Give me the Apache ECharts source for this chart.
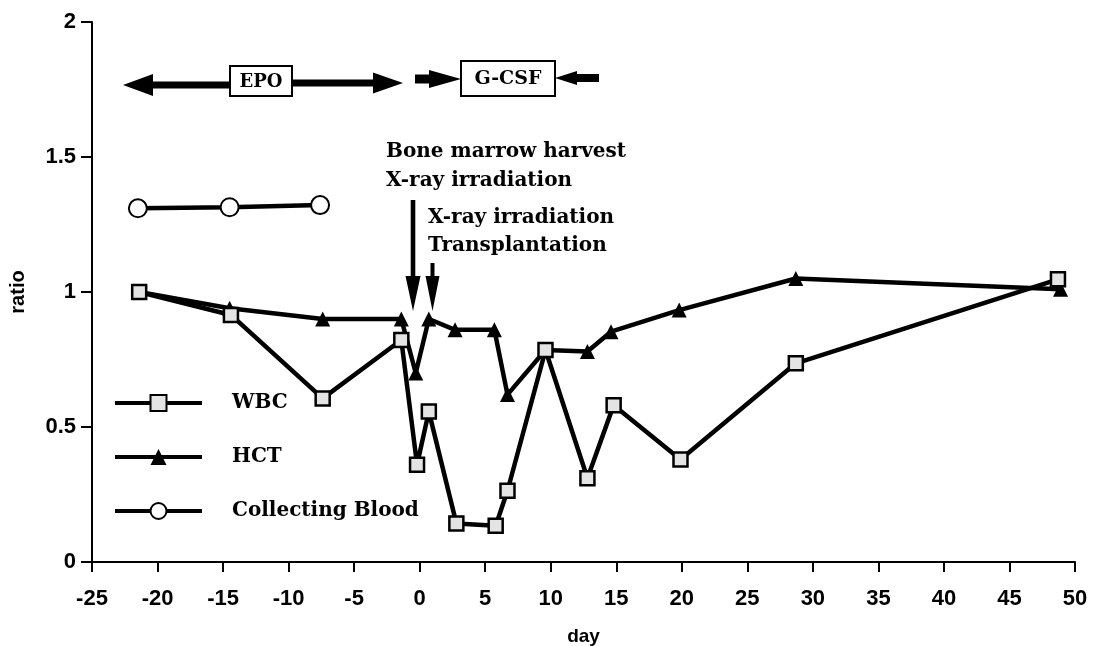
<!DOCTYPE html>
<html>
<head>
<meta charset="utf-8">
<script src="https://cdn.jsdelivr.net/npm/echarts@6/dist/echarts.min.js"></script>
<style>
  html, body { margin: 0; padding: 0; background: #fff; }
  #chart { width: 1093px; height: 646px; }
</style>
</head>
<body>
<div id="chart"></div>
<script>
// values
var wbcDays   = [-21.4, -14.4, -7.4, -1.4, -0.2, 0.7, 2.8, 5.8, 6.7, 9.6, 12.8, 14.8, 19.9, 28.7, 48.7];
var wbcRatio  = [1.00, 0.915, 0.606, 0.822, 0.36, 0.557, 0.143, 0.134, 0.264, 0.785, 0.31, 0.581, 0.38, 0.736, 1.047];
var hctDays   = [-21.4, -14.5, -7.4, -1.4, -0.3, 0.7, 2.7, 5.7, 6.7, 9.6, 12.8, 14.6, 19.8, 28.7, 48.9];
var hctRatio  = [1.00, 0.94, 0.90, 0.90, 0.70, 0.90, 0.86, 0.86, 0.62, 0.785, 0.78, 0.853, 0.933, 1.05, 1.01];
var bloodDays  = [-21.5, -14.5, -7.6];
var bloodRatio = [1.31, 1.314, 1.322];
var xTicks = { min: -25, max: 50, step: 5 };
var yTicks = { min: 0, max: 2, step: 0.5 };

function pairs(xs, ys) {
    var out = [];
    for (var i = 0; i < xs.length; i++) out.push([xs[i], ys[i]]);
    return out;
}

var serifFont = '"DejaVu Serif", "Liberation Serif", serif';
var sansFont = '"Liberation Sans", Arial, sans-serif';

// arrow helpers (annotation shapes, screen pixels)
function hArrow(x1, x2, y, shaft, head, headLen) {
    // tip at x2
    var d = x2 > x1 ? 1 : -1;
    var hb = x2 - d * headLen;
    return {
        type: 'polygon',
        shape: { points: [[x1, y - shaft], [hb, y - shaft], [hb, y - head], [x2, y], [hb, y + head], [hb, y + shaft], [x1, y + shaft]] },
        style: { fill: '#000' }
    };
}
function vArrow(x, y1, y2, shaft, head, headLen) {
    var hb = y2 - headLen;
    return {
        type: 'polygon',
        shape: { points: [[x - shaft, y1], [x + shaft, y1], [x + shaft, hb], [x + head, hb], [x, y2], [x - head, hb], [x - shaft, hb]] },
        style: { fill: '#000' }
    };
}
function boxLabel(x, y, w, h, txt, size) {
    return [{
        type: 'rect',
        shape: { x: x, y: y, width: w, height: h },
        style: { fill: '#fff', stroke: '#000', lineWidth: 2 }
    }, {
        type: 'text',
        x: x + w / 2, y: y + h / 2 + 1,
        style: { text: txt, font: 'bold ' + size + 'px ' + serifFont, fill: '#000', align: 'center', verticalAlign: 'middle' }
    }];
}
function note(x, y, txt) {
    return {
        type: 'text', x: x, y: y,
        style: { text: txt, font: 'bold 20px ' + serifFont, fill: '#000', align: 'left', verticalAlign: 'middle' }
    };
}

var graphics = [
    hArrow(292, 403, 83, 3.5, 10.5, 30),
    hArrow(230, 123, 85, 3.5, 11, 30)
].concat(boxLabel(230, 66, 62, 30, 'EPO', 18)).concat([
    hArrow(415, 461, 79, 4.5, 9, 32),
    hArrow(599, 555, 78, 4, 7, 22)
]).concat(boxLabel(461, 61, 94, 35, 'G-CSF', 19)).concat([
    note(386, 152, 'Bone marrow harvest'),
    note(386, 181, 'X-ray irradiation'),
    note(428, 218, 'X-ray irradiation'),
    note(428, 246, 'Transplantation'),
    vArrow(413, 200, 311, 2.3, 7.5, 35),
    vArrow(432.5, 263, 311, 2, 7, 35)
]);

var chart = echarts.init(document.getElementById('chart'));
chart.setOption({
    backgroundColor: '#fff',
    animation: false,
    grid: { left: 92, right: 18, top: 22, bottom: 84, outerBoundsMode: 'none', containLabel: false },
    legend: {
        orient: 'vertical',
        left: 113, top: 393,
        padding: 0,
        itemWidth: 87, itemHeight: 20,
        itemGap: 34,
        data: ['WBC', 'HCT', 'Collecting Blood'],
        lineStyle: { width: 4 },
        textStyle: { fontFamily: serifFont, fontWeight: 'bold', fontSize: 20, color: '#000', padding: [0, 0, 0, 25] }
    },
    xAxis: {
        type: 'value',
        min: xTicks.min, max: xTicks.max, interval: xTicks.step,
        name: 'day', nameLocation: 'middle', nameGap: 65,
        nameTextStyle: { fontFamily: sansFont, fontWeight: 'bold', fontSize: 19, color: '#000' },
        axisLine: { onZero: false, lineStyle: { color: '#000', width: 2 } },
        axisTick: { length: 10, lineStyle: { color: '#000', width: 2 } },
        axisLabel: { fontFamily: sansFont, fontWeight: 'bold', fontSize: 22, color: '#000', margin: 26 },
        splitLine: { show: false }
    },
    yAxis: {
        type: 'value',
        min: yTicks.min, max: yTicks.max, interval: yTicks.step,
        name: 'ratio', nameLocation: 'middle', nameGap: 64,
        nameTextStyle: { fontFamily: sansFont, fontWeight: 'bold', fontSize: 20, color: '#000' },
        axisLine: { show: true, onZero: false, lineStyle: { color: '#000', width: 2 } },
        axisTick: { show: true, length: 11, lineStyle: { color: '#000', width: 2 } },
        axisLabel: { fontFamily: sansFont, fontWeight: 'bold', fontSize: 22, color: '#000', margin: 16 },
        splitLine: { show: false }
    },
    series: [{
        name: 'HCT',
        type: 'line',
        data: pairs(hctDays, hctRatio),
        symbol: 'triangle', symbolSize: 15,
        itemStyle: { color: '#000' },
        lineStyle: { color: '#000', width: 4.5 },
        z: 2
    }, {
        name: 'WBC',
        type: 'line',
        data: pairs(wbcDays, wbcRatio),
        symbol: 'rect', symbolSize: 14,
        itemStyle: { color: '#e4e4e4', borderColor: '#000', borderWidth: 2.5 },
        lineStyle: { color: '#000', width: 4.5 },
        z: 3
    }, {
        name: 'Collecting Blood',
        type: 'line',
        data: pairs(bloodDays, bloodRatio),
        symbol: 'circle', symbolSize: 18,
        itemStyle: { color: '#fff', borderColor: '#000', borderWidth: 2 },
        lineStyle: { color: '#000', width: 4.5 },
        z: 3
    }],
    graphic: graphics
});
</script>
</body>
</html>
